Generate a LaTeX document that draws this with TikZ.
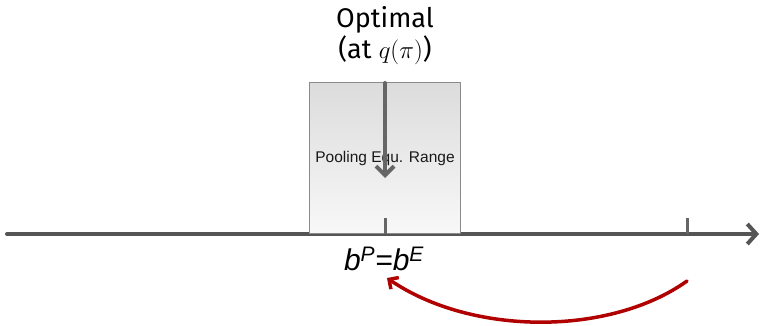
\documentclass[tikz,border=0pt]{standalone}
\usepackage{fontspec}
\setsansfont{Liberation Sans}
\newfontfamily\handfont{Fira Sans}
\usepackage{tikz}
\usetikzlibrary{arrows.meta,positioning}
\definecolor{axgray}{HTML}{555555}
\definecolor{tickgray}{HTML}{666666}
\definecolor{boxline}{HTML}{8A8A8A}
\definecolor{boxtop}{HTML}{DCDCDC}
\definecolor{boxbot}{HTML}{F8F8F8}
\definecolor{movered}{HTML}{B00000}
\tikzset{
  every picture/.style={line cap=round, line join=round},
  axisline/.style={axgray, line width=4pt, -{Straight Barb[length=9pt,width=20pt]}},
  tickmark/.style={tickgray, line width=3pt, line cap=butt},
  rangebox/.style={draw=boxline, line width=0.8pt, top color=boxtop, bottom color=boxbot,
    inner sep=0pt, minimum width=151pt, minimum height=151pt},
  optarrow/.style={tickgray, line width=4pt, -{Straight Barb[length=9pt,width=18pt]}},
  movearrow/.style={movered, line width=3.5pt, -{Straight Barb[length=7pt,width=14pt]}},
  lbl/.style={font=\sffamily\fontsize{15.5}{17}\selectfont, text=black!90},
  eqlbl/.style={font=\sffamily\itshape\fontsize{30}{32}\selectfont, text=black},
  toplbl/.style={font=\handfont\fontsize{27}{31}\selectfont, align=center, text=black},
}
\begin{document}
\begin{tikzpicture}[x=1pt, y=1pt]
\useasboundingbox (0,0) rectangle (762,325);
% axis
\coordinate (axstart) at (7,91);
\coordinate (axend) at (759,91);
\draw[axisline] (axstart) -- (axend);
% pooling range
\node[rangebox, anchor=south west] (pool) at (309,91) {};
\node[lbl] (poollbl) at (385,167) {Pooling Equ. Range};
% ticks
\coordinate (tickA) at (385,91);
\coordinate (tickB) at (687,91);
\draw[tickmark] (tickA) -- ++(0,16);
\draw[tickmark] (tickB) -- ++(0,16);
% optimal
\node[toplbl] (opt) at (385,289) {Optimal\\(at $q(\pi)$)};
\coordinate (opttop) at (385,242);
\coordinate (optend) at (385,147);
\draw[optarrow] (opttop) -- (optend);
% equality label and move
\node[eqlbl] (beq) at (384,66) {b\textsuperscript{P}=b\textsuperscript{E}};
\coordinate (movestart) at (687,44);
\coordinate (moveend) at (387,47);
\draw[movearrow] (movestart) .. controls (610,-11) and (472,-11) .. (moveend);
\end{tikzpicture}
\end{document}
